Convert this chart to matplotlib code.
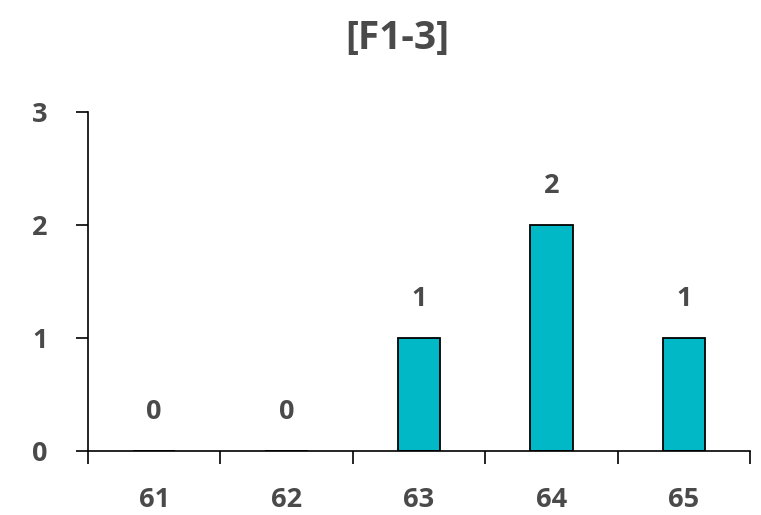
import numpy as np
import matplotlib.pyplot as plt

# data
categories = ['61', '62', '63', '64', '65']
counts = [0, 0, 1, 2, 1]
title = '[F1-3]'

plt.rcParams['font.family'] = ['Open Sans', 'DejaVu Sans']
text_col = '#4a4a4a'

fig = plt.figure(figsize=(7.61, 5.15), dpi=100)
ax = fig.add_axes([0.1156, 0.1243, 0.87, 0.6582])

x = np.arange(len(categories))
ax.bar(x, counts, width=0.32, color='#00b8c6', edgecolor='black', linewidth=1.3)

for xi, c in zip(x, counts):
    ax.annotate(str(c), (xi, c), xytext=(0, 19), textcoords='offset points',
                ha='center', va='bottom', fontsize=19.5, fontweight='bold', color=text_col)

ax.set_xlim(-0.5, len(categories) - 0.5)
ax.set_ylim(0, 3)

# major x ticks sit on the category edges, labels on minor ticks at centres
ax.set_xticks(np.arange(len(categories) + 1) - 0.5)
ax.set_xticklabels([])
ax.set_xticks(x, minor=True)
ax.set_xticklabels(categories, minor=True)
ax.tick_params(axis='x', which='major', length=9, width=1.2, direction='out')
ax.tick_params(axis='x', which='minor', length=0, pad=26)
ax.set_yticks([0, 1, 2, 3])
ax.tick_params(axis='y', length=9, width=1.2, direction='out', pad=20)

for lab in ax.get_xticklabels(minor=True) + ax.get_yticklabels():
    lab.set_fontsize(19.5)
    lab.set_fontweight('bold')
    lab.set_color(text_col)

for s in ['top', 'right']:
    ax.spines[s].set_visible(False)
for s in ['left', 'bottom']:
    ax.spines[s].set_linewidth(1.2)

fig.text(0.522, 0.925, title, ha='center', va='center', fontsize=28,
         fontweight='bold', color=text_col)

fig.savefig('out.png', dpi=100)
